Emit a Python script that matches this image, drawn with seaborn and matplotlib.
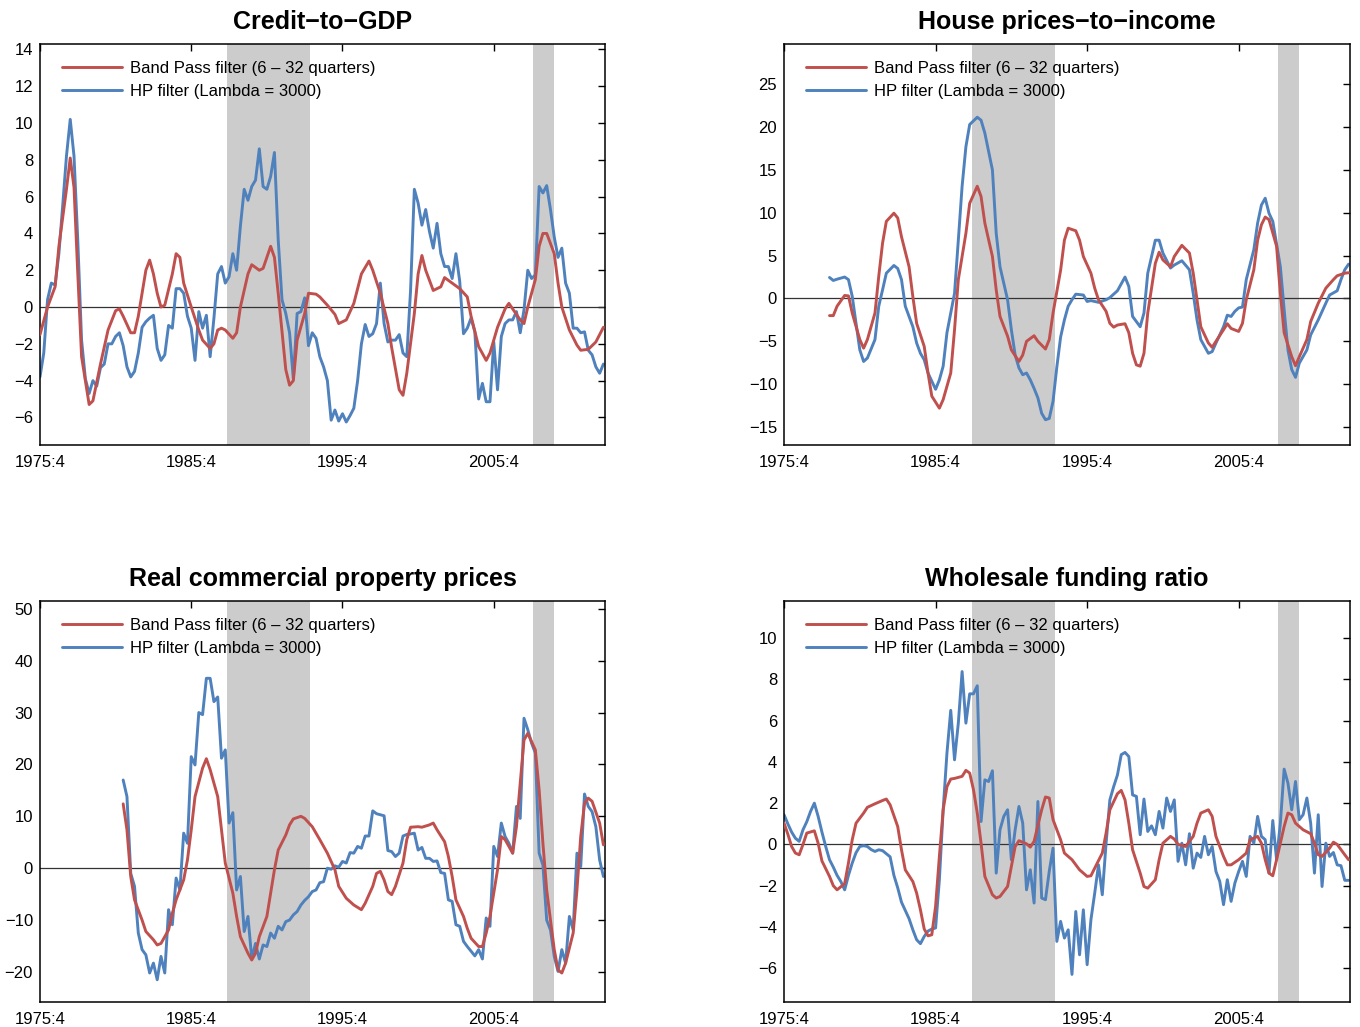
import matplotlib
matplotlib.use("Agg")
import matplotlib.pyplot as plt
import seaborn as sns
import numpy as np
import pandas as pd

# quarters counted from 1975:4 (t = 0)
tick_quarters = [0, 40, 80, 120]
tick_labels = ["1975:4", "1985:4", "1995:4", "2005:4"]
crisis_start = [49.5, 130.5]
crisis_end = [71.5, 136.0]

bp_label = "Band Pass filter (6 \u2013 32 quarters)"
hp_label = "HP filter (Lambda = 3000)"
red = "#C0504D"
blue = "#4F81BD"

# ---- Credit-to-GDP ----
credit_bp_t = [0, 2, 4, 5, 7, 8, 9, 10, 11, 13, 14, 16, 18, 20, 21, 22, 24, 25, 26, 28, 29, 30, 31,
               32, 33, 35, 36, 37, 38, 40, 42, 43, 45, 46, 47, 48, 49, 51, 52, 53, 55, 56, 58, 59,
               61, 62, 63, 65, 66, 67, 68, 70, 71, 73, 74, 76, 78, 79, 81, 83, 85, 87, 88, 90, 92,
               93, 95, 96, 97, 99, 100, 101, 102, 104, 106, 107, 109, 111, 113, 114, 116, 118, 119,
               121, 123, 124, 125, 127, 128, 129, 131, 132, 133, 134, 136, 137, 138, 140, 142, 143,
               145, 147, 149]
credit_bp = [-1.5, 0.0, 1.1, 3.3, 6.4, 8.1, 6.5, 1.8, -2.7, -5.3, -5.1, -3.1, -1.25, -0.2, -0.1,
             -0.5, -1.4, -1.4, -0.5, 2.0, 2.55, 1.8, 0.75, 0.0, 0.1, 1.8, 2.9, 2.7, 1.3, 0.0, -1.25,
             -1.8, -2.25, -2.0, -1.25, -1.15, -1.25, -1.7, -1.4, 0.0, 1.8, 2.3, 2.0, 2.1, 3.3, 2.7,
             0.75, -3.4, -4.25, -4.0, -1.8, -0.35, 0.75, 0.7, 0.55, 0.1, -0.4, -0.9, -0.7, 0.2, 1.8,
             2.5, 2.0, 0.75, -0.9, -2.2, -4.5, -4.8, -3.6, -0.35, 1.8, 2.8, 2.0, 0.9, 1.1, 1.6, 1.3,
             1.0, 0.55, -0.5, -2.15, -2.9, -2.5, -1.1, -0.1, 0.2, -0.1, -0.7, -0.9, 0.0, 1.5, 3.3,
             4.0, 4.0, 2.9, 1.3, 0.0, -1.25, -2.07, -2.35, -2.3, -1.9, -1.1]
credit_hp_t = list(range(0, 150))
credit_hp = [-3.8, -2.5, 0.4, 1.3, 1.2, 2.9, 5.5, 8.2, 10.2, 8.2, 3.6, -1.8, -3.9, -4.7, -4.0, -4.3,
             -3.3, -3.1, -2.0, -2.0, -1.6, -1.4, -2.1, -3.25, -3.8, -3.5, -2.5, -1.1, -0.8, -0.6,
             -0.45, -2.25, -2.9, -2.6, -1.0, -1.15, 1.0, 1.0, 0.75, -0.5, -1.15, -2.9, -0.25, -1.15,
             -0.45, -2.7, -0.6, 1.8, 2.2, 1.3, 1.65, 2.9, 2.0, 4.4, 6.4, 5.8, 6.55, 6.9, 8.6, 6.55,
             6.4, 7.1, 8.4, 3.65, 0.4, -0.35, -1.4, -3.9, -0.35, -0.25, 0.5, -2.1, -1.4, -1.7, -2.7,
             -3.25, -4.0, -6.15, -5.6, -6.2, -5.8, -6.25, -5.9, -5.5, -4.0, -2.0, -0.95, -1.6, -1.45,
             -0.9, 1.3, -0.9, -1.9, -1.8, -1.8, -1.5, -2.5, -2.7, 0.9, 6.4, 5.65, 4.45, 5.3, 4.1,
             3.2, 4.55, 2.9, 2.2, 2.2, 1.55, 2.9, 1.4, -1.45, -1.15, -0.6, -1.35, -5.0, -4.15,
             -5.15, -5.15, -1.9, -4.5, -1.6, -0.9, -0.7, -0.7, -0.25, -1.4, -0.15, 2.0, 1.55, 1.75,
             6.55, 6.2, 6.6, 5.3, 3.8, 2.7, 3.2, 1.3, 0.75, -1.15, -1.15, -1.4, -1.35, -2.35, -2.6,
             -3.25, -3.6, -3.1]

# ---- House prices-to-income ----
house_bp_t = [12, 13, 14, 16, 17, 18, 20, 21, 22, 24, 25, 26, 27, 29, 30, 31, 33, 34, 35, 37, 38, 39,
              41, 42, 44, 45, 46, 48, 49, 51, 52, 53, 55, 56, 57, 59, 60, 62, 63, 64, 66, 67, 69, 70,
              71, 73, 74, 75, 77, 78, 79, 81, 82, 83, 85, 86, 87, 88, 90, 91, 92, 93, 94, 95, 96, 98,
              99, 100, 102, 103, 105, 107, 108, 109, 110, 112, 113, 114, 116, 117, 118, 120, 121,
              122, 124, 125, 126, 127, 128, 130, 131, 132, 134, 135, 136, 138, 139, 141, 143, 145,
              146, 148, 149]
house_bp = [-2.0, -2.0, -0.9, 0.35, 0.3, -1.7, -4.8, -5.8, -4.8, -1.7, 2.6, 6.45, 9.0, 9.95, 9.4,
            7.2, 3.7, 0.2, -2.9, -5.6, -8.7, -11.4, -12.8, -11.8, -8.7, -3.65, 2.2, 7.6, 11.1, 13.1,
            11.9, 8.8, 4.9, 1.0, -2.1, -4.4, -6.0, -7.35, -6.6, -5.0, -4.35, -5.0, -5.9, -4.8, -1.7,
            3.3, 6.8, 8.2, 7.9, 6.8, 4.9, 2.95, 1.2, -0.15, -1.5, -2.9, -3.35, -3.1, -2.95, -4.0,
            -6.4, -7.75, -7.9, -6.4, -1.7, 4.1, 5.4, 4.5, 3.7, 4.9, 6.2, 5.3, 2.95, -0.15, -3.3,
            -5.2, -5.7, -5.0, -3.65, -2.95, -3.5, -3.85, -2.9, -0.15, 3.35, 6.8, 8.6, 9.5, 9.2, 6.1,
            0.6, -4.0, -6.8, -7.85, -6.8, -4.8, -2.7, -0.55, 1.2, 2.2, 2.65, 2.95, 3.0]
house_hp_t = [12, 13, 14, 16, 17, 18, 19, 20, 21, 22, 24, 25, 26, 27, 29, 30, 31, 32, 34, 35, 36, 37,
              38, 40, 41, 42, 43, 45, 46, 47, 48, 49, 51, 52, 53, 55, 56, 57, 59, 60, 61, 62, 63, 64,
              65, 66, 67, 68, 69, 70, 71, 72, 73, 74, 75, 76, 77, 79, 80, 81, 83, 85, 86, 88, 90, 91,
              92, 94, 95, 96, 98, 99, 100, 102, 103, 105, 107, 108, 109, 110, 112, 113, 114, 116,
              117, 118, 119, 120, 121, 122, 124, 125, 126, 127, 128, 129, 131, 132, 133, 134, 135,
              136, 138, 139, 141, 143, 144, 146, 147, 148, 149]
house_hp = [2.45, 2.1, 2.25, 2.5, 2.2, 0.25, -2.9, -6.0, -7.35, -6.95, -4.8, -0.9, 1.0, 2.95, 3.85,
            3.5, 2.2, -0.9, -3.3, -5.2, -6.4, -7.15, -8.7, -10.6, -9.5, -7.9, -4.0, 0.6, 6.8, 13.1,
            17.7, 20.3, 21.15, 20.8, 19.3, 15.0, 7.6, 3.7, -0.15, -3.65, -6.6, -8.1, -8.9, -8.7,
            -9.5, -10.5, -11.6, -13.4, -14.15, -14.0, -12.0, -8.0, -4.5, -2.5, -0.9, -0.15, 0.5,
            0.4, -0.35, -0.25, -0.45, -0.15, 0.1, 0.9, 2.5, 1.4, -2.1, -3.3, -1.7, 2.95, 6.8, 6.8,
            5.3, 3.55, 3.9, 4.4, 3.35, 0.6, -2.5, -4.8, -6.4, -6.2, -5.2, -3.3, -1.95, -2.1, -1.5,
            -1.1, -1.0, 2.2, 5.7, 8.8, 10.9, 11.7, 9.95, 9.0, 3.7, -1.3, -6.0, -8.3, -9.2, -7.55,
            -6.0, -4.25, -2.5, -0.55, 0.4, 0.9, 2.2, 3.35, 4.0]

# ---- Real commercial property prices ----
cpp_bp_t = [22, 23, 24, 25, 27, 28, 30, 31, 32, 34, 35, 36, 38, 39, 40, 41, 43, 44, 45, 47, 48, 49,
            51, 52, 53, 55, 56, 57, 58, 60, 61, 62, 63, 65, 66, 67, 69, 70, 72, 74, 76, 78, 79, 81,
            83, 85, 86, 88, 89, 90, 91, 92, 93, 94, 96, 97, 98, 100, 101, 103, 104, 105, 107, 108,
            109, 110, 112, 113, 114, 116, 117, 118, 119, 121, 122, 123, 125, 126, 127, 128, 129,
            131, 132, 133, 134, 135, 136, 137, 138, 139, 141, 142, 143, 144, 145, 146, 148, 149]
cpp_bp = [12.4, 7.4, -1.6, -6.1, -10.0, -12.2, -13.8, -14.8, -14.5, -11.9, -8.7, -6.1, -2.25, 1.6,
          7.4, 13.8, 19.3, 21.1, 19.0, 13.8, 7.4, 1.0, -4.8, -9.3, -13.2, -16.4, -17.7, -16.4,
          -13.2, -9.3, -4.8, -0.3, 3.5, 6.4, 8.35, 9.5, 10.0, 9.6, 8.0, 5.5, 2.9, -0.3, -3.5, -5.8,
          -7.1, -8.0, -6.75, -3.5, -1.0, -0.6, -2.25, -4.5, -5.1, -3.5, 1.0, 5.5, 7.9, 8.0, 7.9,
          8.35, 8.7, 7.4, 5.1, 2.25, -1.6, -6.1, -9.3, -11.6, -13.5, -15.1, -15.1, -12.5, -9.3,
          -0.3, 6.1, 5.5, 2.9, 8.0, 16.4, 24.7, 26.0, 22.8, 15.1, 4.8, -4.2, -10.0, -15.7, -19.6,
          -20.2, -18.3, -12.5, -4.2, 6.1, 12.5, 13.5, 12.9, 8.7, 4.5]
cpp_hp_t = list(range(22, 150))
cpp_hp = [17.0, 13.8, -1.0, -3.5, -12.5, -15.7, -16.7, -20.2, -18.3, -21.5, -17.0, -20.2, -8.0,
          -10.9, -1.9, -4.2, 6.75, 4.8, 21.5, 19.9, 30.0, 29.6, 36.6, 36.6, 32.1, 33.0, 21.2, 22.8,
          8.7, 10.7, -4.2, -1.6, -12.2, -9.3, -17.4, -14.5, -17.5, -14.8, -15.1, -12.5, -13.5,
          -11.2, -11.9, -10.3, -10.0, -9.0, -8.35, -7.1, -6.2, -5.5, -4.5, -4.2, -2.8, -2.6, 0.0,
          -0.2, 0.45, 0.2, 1.3, 1.0, 3.0, 2.9, 4.2, 3.85, 6.2, 6.2, 11.05, 10.5, 10.3, 10.1, 3.4,
          3.2, 2.25, 2.9, 6.2, 6.5, 6.6, 6.75, 3.5, 4.0, 1.9, 1.9, 1.3, 1.4, -0.85, -1.0, -6.1,
          -6.4, -10.9, -11.2, -14.1, -15.1, -16.0, -16.9, -15.7, -17.5, -9.6, -11.2, 4.2, 2.25,
          8.7, 6.1, 4.8, 2.9, 11.9, 9.6, 28.9, 26.7, 24.1, 22.2, 2.9, 0.6, -10.0, -11.9, -17.0,
          -19.9, -15.7, -18.3, -9.3, -11.9, 2.9, 0.3, 14.3, 11.9, 10.9, 8.0, 1.6, -1.6]

# ---- Wholesale funding ratio ----
wf_bp_t = [0, 1, 2, 3, 4, 5, 6, 8, 9, 10, 12, 13, 14, 16, 17, 18, 19, 21, 22, 24, 26, 27, 28, 30,
           31, 32, 34, 35, 36, 37, 38, 39, 40, 41, 42, 43, 44, 45, 47, 48, 49, 50, 51, 52, 53, 55,
           56, 57, 59, 60, 61, 62, 64, 65, 66, 68, 69, 70, 71, 73, 74, 76, 78, 80, 81, 82, 84, 85,
           86, 88, 89, 90, 91, 92, 94, 95, 96, 98, 99, 100, 102, 103, 104, 106, 108, 109, 110,
           112, 113, 114, 116, 117, 118, 120, 122, 123, 125, 126, 127, 128, 129, 130, 132, 133,
           134, 135, 137, 139, 140, 141, 142, 144, 145, 146, 148, 149]
wf_bp = [1.03, 0.5, -0.1, -0.42, -0.5, 0.0, 0.55, 0.66, 0.06, -0.8, -1.55, -2.0, -2.2, -1.9, -0.9,
         0.23, 1.03, 1.52, 1.8, 1.97, 2.13, 2.2, 1.92, 0.87, -0.26, -1.23, -1.8, -2.36, -3.17,
         -4.1, -4.43, -4.38, -3.0, -0.58, 1.68, 2.8, 3.17, 3.2, 3.3, 3.59, 3.46, 2.65, 1.52, 0.06,
         -1.55, -2.44, -2.6, -2.52, -2.04, -1.07, -0.1, 0.18, 0.03, -0.13, 0.15, 1.68, 2.3, 2.25,
         1.2, 0.23, -0.42, -0.74, -1.23, -1.55, -1.52, -1.15, -0.42, 0.55, 1.68, 2.46, 2.62, 2.16,
         1.03, -0.26, -1.39, -2.04, -2.12, -1.71, -0.74, 0.06, 0.39, 0.26, 0.0, -0.1, 0.39, 1.03,
         1.52, 1.68, 1.36, 0.39, -0.58, -0.99, -0.99, -0.74, -0.42, 0.23, 0.39, 0.06, -0.74,
         -1.39, -1.52, -0.74, 0.87, 1.52, 1.44, 1.03, 0.71, 0.52, 0.06, -0.5, -0.58, -0.18, 0.11,
         0.0, -0.5, -0.74]
wf_hp_t = list(range(0, 150))
wf_hp = [1.44, 1.0, 0.6, 0.3, 0.15, 0.71, 1.1, 1.6, 2.0, 1.36, 0.6, -0.1, -0.74, -1.1, -1.5, -1.8,
         -2.2, -1.5, -0.9, -0.4, -0.1, -0.06, -0.1, -0.25, -0.34, -0.26, -0.3, -0.45, -0.6, -1.5,
         -2.1, -2.8, -3.2, -3.6, -4.14, -4.62, -4.81, -4.46, -4.2, -4.1, -4.05, -1.71, 1.68, 4.43,
         6.5, 4.1, 5.88, 8.38, 5.88, 7.3, 7.3, 7.69, 1.11, 3.13, 3.05, 3.57, -1.39, 0.71, 1.36,
         1.68, -0.74, 0.71, 1.84, 1.03, -2.2, -1.23, -2.84, 2.08, -2.6, -2.68, -1.3, -0.18, -4.7,
         -3.73, -4.54, -4.14, -6.3, -3.25, -5.35, -3.17, -5.83, -3.65, -2.36, -0.99, -2.44, 0.06,
         2.16, 2.8, 3.37, 4.35, 4.46, 4.26, 2.4, 2.33, 0.47, 2.2, 0.63, 0.9, 0.47, 1.6, 0.79, 2.25,
         1.6, 2.16, -0.82, 0.06, -0.99, 0.52, -1.15, -0.42, -0.63, 0.39, -0.5, -0.1, -1.31, -1.79,
         -2.92, -1.71, -2.76, -1.87, -1.31, -0.82, -1.55, 0.39, 0.06, 1.36, 0.39, 0.23, -1.39,
         1.16, -0.74, 1.03, 3.65, 2.97, 1.68, 3.05, 1.2, 1.44, 2.25, 1.03, -1.39, 1.44, -2.04,
         0.06, -0.58, -0.39, -0.99, -1.03, -1.74, -1.74]

panels = [
    ("Credit\u2212to\u2212GDP", credit_bp_t, credit_bp, credit_hp_t, credit_hp,
     (-7.5, 14.3), np.arange(-6, 15, 2)),
    ("House prices\u2212to\u2212income", house_bp_t, house_bp, house_hp_t, house_hp,
     (-17.1, 29.7), np.arange(-15, 26, 5)),
    ("Real commercial property prices", cpp_bp_t, cpp_bp, cpp_hp_t, cpp_hp,
     (-25.8, 51.5), np.arange(-20, 51, 10)),
    ("Wholesale funding ratio", wf_bp_t, wf_bp, wf_hp_t, wf_hp,
     (-7.64, 11.8), np.arange(-6, 11, 2)),
]

sns.set_theme(style="white")
plt.rcParams["font.family"] = ["Liberation Sans", "DejaVu Sans"]
plt.rcParams["text.color"] = "black"

fig = plt.figure(figsize=(13.6, 10.27), dpi=100)
positions = [
    [0.0294, 0.5667, 0.4154, 0.3905],
    [0.5765, 0.5667, 0.4162, 0.3905],
    [0.0294, 0.0243, 0.4154, 0.3905],
    [0.5765, 0.0243, 0.4162, 0.3905],
]

for pos, (title, bp_t, bp, hp_t, hp, ylim, yticks) in zip(positions, panels):
    ax = fig.add_axes(pos)
    for s, e in zip(crisis_start, crisis_end):
        ax.axvspan(s, e, color="#cccccc", lw=0, zorder=0)
    ax.axhline(0, color="#333333", lw=0.9, zorder=1)
    df_bp = pd.DataFrame({"t": bp_t, "v": bp})
    df_hp = pd.DataFrame({"t": hp_t, "v": hp})
    sns.lineplot(data=df_bp, x="t", y="v", ax=ax, color=red, lw=2.1, label=bp_label, zorder=3)
    sns.lineplot(data=df_hp, x="t", y="v", ax=ax, color=blue, lw=2.1, label=hp_label, zorder=2)
    ax.set_xlim(0, 149.4)
    ax.set_ylim(*ylim)
    ax.set_xticks(tick_quarters)
    ax.set_xticklabels(tick_labels)
    ax.set_yticks(yticks)
    ax.set_xlabel("")
    ax.set_ylabel("")
    ax.tick_params(direction="in", top=True, right=True, length=5, width=1,
                   labelsize=12, colors="black")
    ax.tick_params(axis="x", pad=7)
    ax.tick_params(axis="y", pad=5)
    for sp in ax.spines.values():
        sp.set_color("black")
        sp.set_linewidth(1.1)
    ax.set_title(title, fontsize=18, fontweight="bold", pad=11, color="black")
    leg = ax.legend(loc="upper left", bbox_to_anchor=(0.009, 1.0), frameon=False, fontsize=12,
                    handlelength=3.6, handletextpad=0.5, borderaxespad=0.6, labelspacing=0.48)
    for txt in leg.get_texts():
        txt.set_color("black")

fig.savefig("out.png", dpi=100)
